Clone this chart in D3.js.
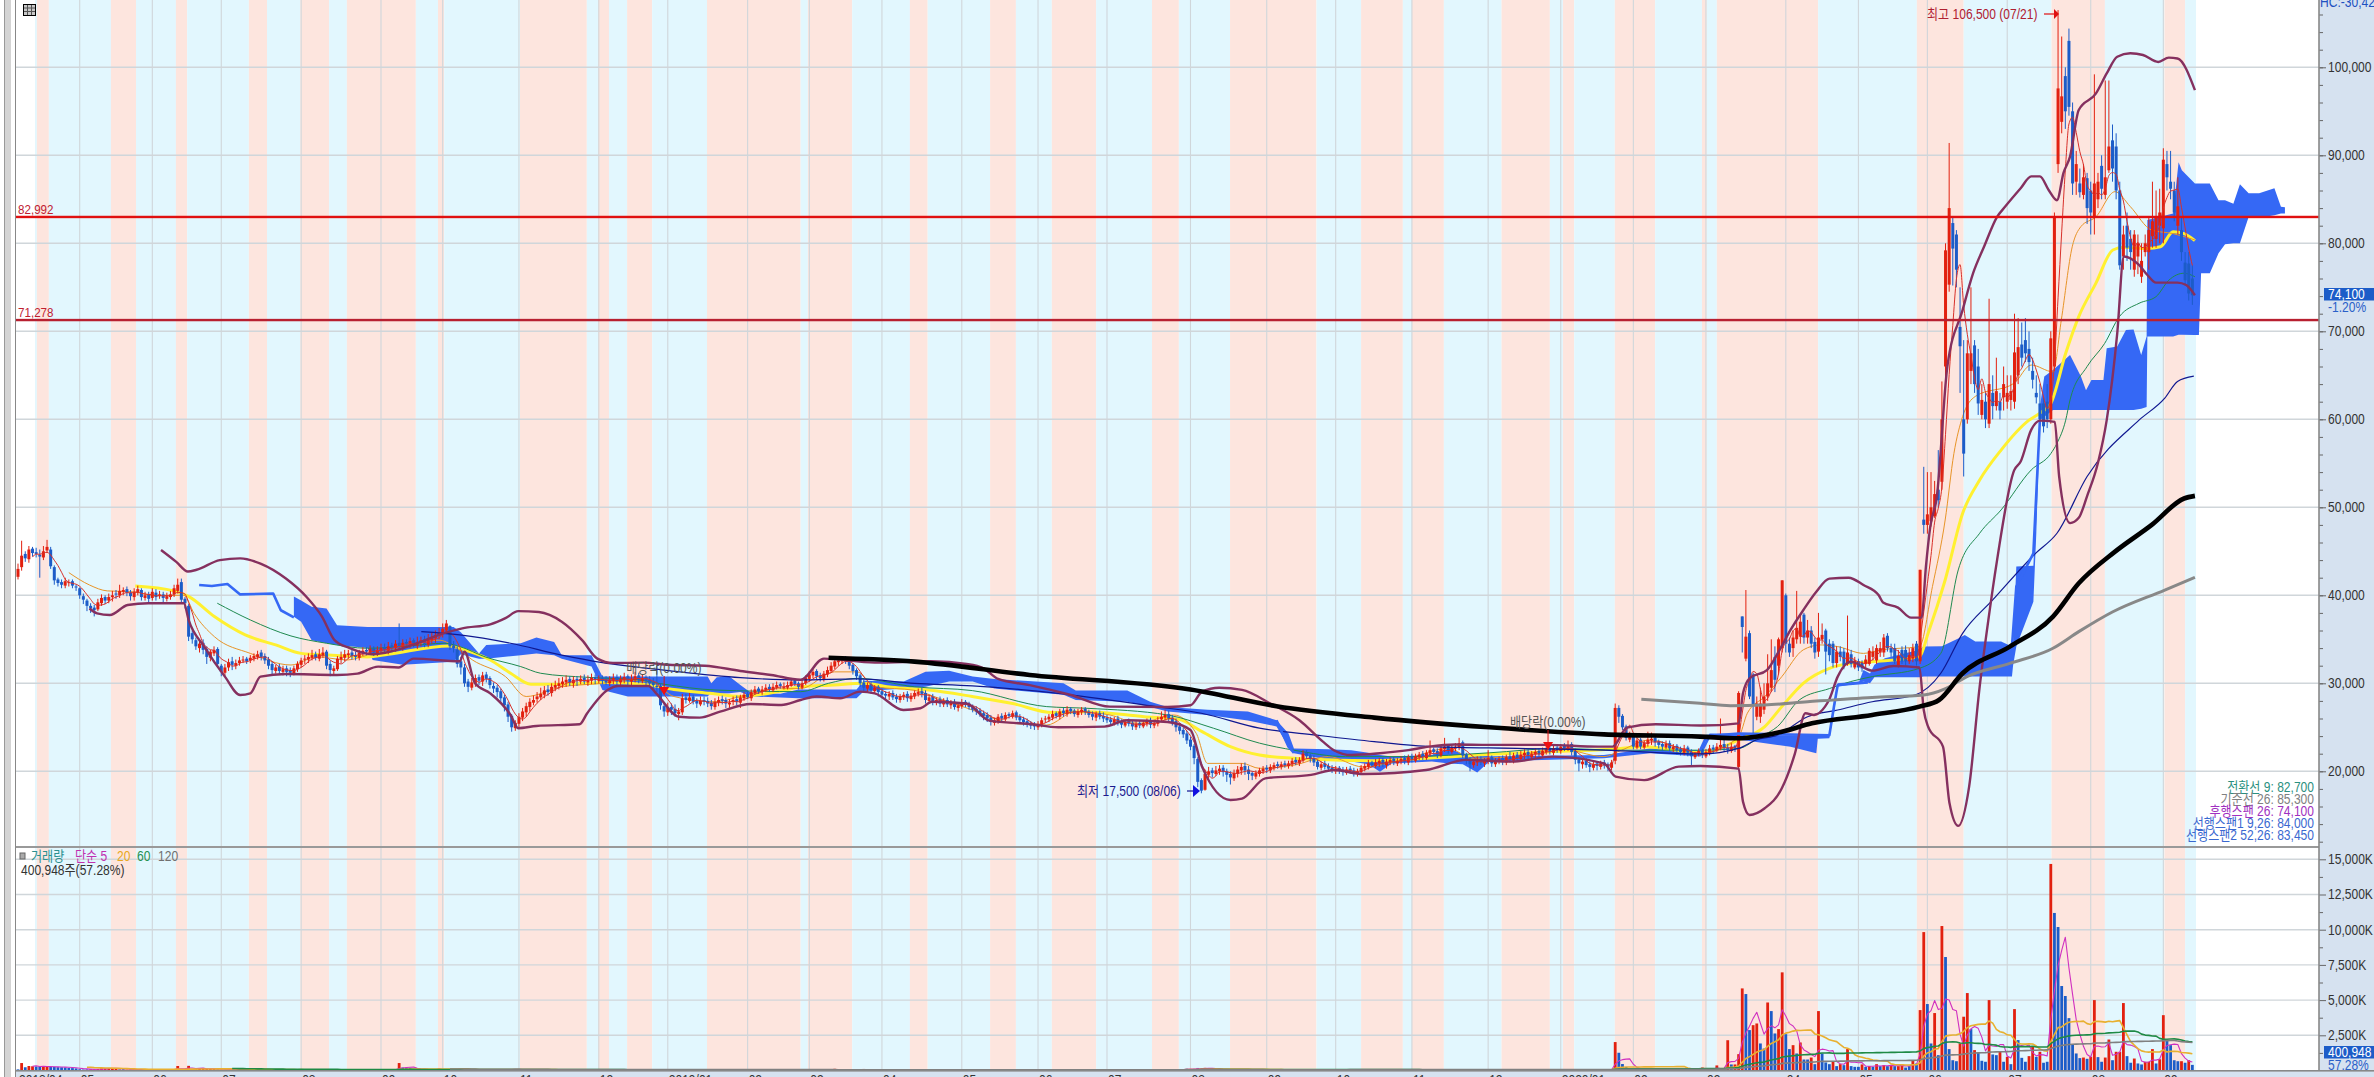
<!DOCTYPE html>
<html><head><meta charset="utf-8">
<script src="https://cdnjs.cloudflare.com/ajax/libs/d3/7.9.0/d3.min.js"></script>
<style>html,body{margin:0;padding:0;background:#fff;overflow:hidden}svg{display:block}text{font-family:"Liberation Sans","Noto Sans CJK KR",sans-serif}</style>
</head><body><svg id="c" width="2374" height="1077"></svg>
<script>
// prices in hundreds of won; volumes in thousands of shares, negative = down day
const closesEarly=[
430,445,442,452,448,447,444,450,455,433,417,414,412,416,415,411,409,400,395,388,
385,383,392,397,394,398,400,401,405,406,403,399,404,407,398,400,396,404,398,401,
397,399,401,408,412,395,391,353,350,342,345,338,330,336,338,322,313,318,324,321,
323,326,327,325,329,331,333,330,326,320,315,318,314,316,313,312,317,322,326,328,
330,332,329,333,335,320,315,317,328,330,333,334,331,330,335,337,336,339,335,338,
340,338,342,341,345,342,346,345,348,344,347,349,345,350,352,355,357,362,368,342,
340,322,318,300,296,301,306,303,309,305,298,294,290,283,275,262,250,255,262,268,
274,279,281,285,288,292,290,296,298,300,302,304,301,304,303,305,302,304,306,304,
305,303,301,304,306,302,305,307,303,305,308,304,306,303,300,298,296,275,268,272,
270,266,268,283,281,284,279,277,280,279,277,274,279,281,280,277,278,281,279,284,
287,284,290,293,291,293,295,293,296,298,297,296,298,302,299,296,300,306,310,313,
308,306,311,315,320,325,326,328,325,320,314,308,300,295,298,292,295,290,287,286,
288,284,282,285,287,283,286,289,290,288,281,284,279,281,277,280,276,278,273,275,
278,276,273,270,268,265,263,260,256,258,262,260,264,263,266,261,258,256,253,252,
251,254,258,260,262,265,263,268,266,270,268,265,268,270,267,264,262,265,262,260,
258,256,259,255,253,256,254,251,254,252,255,257,253,255,258,262,264,260,256,250,
246,242,235,228,215,188,178,197,200,198,201,203,199,196,193,198,202,205,201,197,
195,198,201,203,202,205,207,206,208,207,209,212,210,213,220,217,214,210,205,208,
205,203,201,203,201,199,202,200,198,200,204,206,209,207,210,212,208,211,213,210,
212,214,211,216,213,217,219,216,221,224,222,219,226,228,223,227,228,232,218,212,
208,211,213,210,212,215,209,212,214,211,216,213,218,215,219,221,217,220,222,219,
223,225,222,226,224,228,226,230,222,213,209,211,207,205,208,206,209,207,205,210,
272,262,250,238,240,228,235,228,232,236,237,233,230,228,231,226,228,224,222,226,
221,217,219,223,218,222,226,225,228,230,226,224,228,226];
const opensEarly=[
421,432,447,441,453,449,446,443,451,452,432,418,415,411,414,416,410,408,399,394,
388,386,384,391,398,394,398,402,400,404,407,403,398,403,406,397,401,397,403,399,
401,396,398,401,405,415,396,388,357,349,340,346,339,329,334,339,320,312,318,325,
320,323,326,328,326,328,330,335,331,327,322,314,319,313,317,315,311,316,321,327,
327,329,333,328,332,336,322,314,316,327,329,332,335,332,329,334,338,335,339,334,
337,341,337,343,340,346,341,347,344,349,343,346,350,344,349,351,354,357,360,365,
343,338,325,318,302,295,300,307,302,310,306,297,295,291,284,276,263,249,254,261,
267,273,278,282,284,287,293,289,295,297,299,301,305,300,305,302,306,301,303,307,
303,306,304,300,303,307,301,304,308,302,304,309,303,307,304,301,297,297,274,267,
273,271,265,267,284,280,285,280,276,281,280,278,273,278,282,281,276,279,282,278,
283,288,283,289,294,290,292,296,292,295,299,296,295,297,303,300,295,300,305,309,
314,309,305,310,314,319,324,325,329,326,321,315,309,301,294,299,291,296,291,288,
285,289,285,281,284,288,282,285,288,291,289,280,285,278,282,276,281,275,279,272,
274,279,277,274,271,269,266,264,261,255,257,263,259,265,262,267,262,259,257,254,
253,250,253,259,259,261,266,262,269,265,271,269,264,267,271,268,265,261,266,263,
261,259,255,260,256,252,257,255,250,255,251,254,258,252,254,259,261,265,261,257,
251,247,243,236,229,214,190,179,196,201,197,200,204,200,197,192,197,201,206,202,
198,194,197,200,204,201,204,208,205,209,206,208,213,209,212,221,218,215,211,204,
209,206,204,200,204,202,198,203,201,197,199,203,205,210,206,209,213,207,210,214,
209,211,215,210,217,212,216,220,215,220,225,223,218,225,229,222,226,227,233,219,
213,207,210,214,209,211,216,208,211,215,210,217,212,219,214,218,222,216,219,223,
218,222,226,221,227,223,229,225,231,223,214,208,212,208,204,209,205,210,208,204,
212,272,263,251,236,241,227,236,227,231,235,238,234,231,227,232,225,229,225,221,
227,222,216,220,224,217,221,227,224,227,231,227,223,229];
const highsEarly=[
436,462,450,456,455,454,452,456,463,455,434,420,418,420,418,418,412,409,402,396,
391,389,396,401,400,402,405,406,412,409,410,406,408,411,408,404,404,408,407,405,
404,403,405,412,419,419,398,390,360,352,348,350,342,338,342,341,322,322,328,330,
327,330,331,330,332,334,337,338,334,330,325,321,322,320,320,318,320,325,329,332,
334,338,336,339,341,338,326,320,331,336,338,338,338,336,338,341,341,343,342,342,
345,345,347,346,349,368,350,350,352,351,353,353,354,356,358,360,363,368,372,366,
348,342,330,322,305,306,310,310,313,313,308,301,298,294,287,279,265,258,266,272,
278,283,286,290,295,297,298,300,303,306,307,309,308,308,308,309,310,309,311,310,
309,309,308,308,311,310,309,312,310,310,313,312,310,309,308,306,320,300,277,278,
277,276,272,288,288,289,287,283,285,285,284,281,283,285,286,284,282,285,286,287,
290,291,293,297,296,297,299,299,300,302,301,301,302,305,304,302,304,309,314,317,
316,312,314,319,324,328,331,330,331,328,323,317,311,304,301,302,298,298,294,291,
291,292,288,288,290,291,289,292,294,295,292,287,288,284,285,283,284,281,282,278,
282,281,279,276,274,272,269,267,264,261,265,266,267,267,269,269,265,262,260,257,
256,257,261,263,265,269,268,271,272,274,273,271,271,273,273,270,268,268,269,267,
264,262,262,263,259,259,260,258,257,258,258,260,261,258,262,268,270,269,264,260,
254,250,246,239,231,216,192,202,205,204,206,207,207,203,200,202,206,209,210,206,
200,201,204,206,207,208,210,211,211,212,212,215,216,216,224,224,220,218,213,211,
212,209,207,206,206,205,205,206,204,203,207,209,213,212,214,215,215,214,216,216,
215,217,218,219,220,220,222,223,224,235,227,226,229,238,231,231,232,238,235,221,
216,214,217,217,215,224,218,215,217,218,219,222,221,222,223,225,225,223,226,226,
227,229,229,230,230,231,232,235,233,226,216,215,215,211,212,211,212,213,210,213,
277,275,265,253,245,243,238,238,235,245,244,240,236,234,235,235,231,231,228,230,
229,225,222,226,226,225,230,230,232,260,236,231,232,230];
const lowsEarly=[
418,428,438,437,444,443,420,440,448,430,412,410,408,408,410,408,405,396,390,382,
380,376,382,388,390,391,393,396,397,400,399,394,394,400,394,394,392,394,394,396,
392,393,395,398,402,392,385,348,345,338,335,333,322,325,331,318,308,308,314,315,
316,320,323,322,323,325,327,326,322,316,310,311,310,309,308,307,309,313,318,322,
323,326,326,325,329,316,308,310,314,323,325,328,327,326,326,331,332,332,331,331,
334,335,333,337,336,338,337,341,340,341,339,342,341,341,345,346,350,352,356,338,
335,318,310,296,290,292,296,298,297,301,294,289,284,279,268,256,245,246,250,257,
262,268,275,278,281,283,286,285,291,293,295,296,297,295,297,299,299,297,299,299,
300,299,298,297,299,298,297,300,298,298,301,300,300,298,296,294,290,270,262,263,
264,262,258,264,277,278,276,272,274,275,273,270,270,274,276,272,272,275,275,272,
280,282,280,287,288,287,290,290,290,293,294,293,293,296,297,293,293,298,302,306,
304,302,302,307,312,316,320,322,322,316,310,304,296,291,290,288,288,285,283,282,
281,281,278,278,281,279,279,282,285,284,277,277,275,275,273,273,273,271,270,268,
271,273,270,267,264,262,258,256,252,252,254,257,257,260,260,258,255,252,250,248,
247,247,250,255,256,258,260,259,262,262,265,262,261,264,264,261,258,257,259,256,
255,252,252,252,249,250,251,247,247,249,249,251,249,249,251,256,258,255,252,245,
242,238,231,224,208,182,175,178,192,193,195,196,194,188,185,189,193,196,196,190,
190,191,194,197,198,198,201,203,202,204,203,205,207,206,210,214,210,206,202,201,
202,200,198,197,197,195,196,197,194,194,197,200,202,204,204,205,205,203,207,207,
206,208,208,207,210,210,213,213,213,217,219,215,216,222,220,220,223,224,215,208,
200,204,206,207,205,208,205,205,208,207,207,210,209,212,211,214,214,213,215,215,
215,219,219,218,221,220,223,223,218,208,200,203,204,199,201,201,202,203,200,201,
208,255,247,235,233,225,225,225,225,228,230,228,226,223,225,223,222,219,218,218,
217,205,214,217,215,215,218,220,222,224,222,220,221,222];
const lateStart=474;
const opensLate=[205,376,328,357,310,262,262,270,285,295,330,320,340,400,345,340,350,353,378,352,360,347,336,350,360,345,345,323,336,336,322,333,318,325,323,322,322,330,326,335,335,354,340,340,320,338,338,325,328,345,325,486,480,484,490,520,529,660,753,823,810,705,600,600,655,684,660,605,620,595,630,615,620,625,620,622,620,650,685,690,680,655,630,618,618,620,600,660,890,938,990,1030,950,870,868,855,874,860,830,850,888,855,883,917,910,860,785,820,805,770,785,762,790,790,808,805,820,817,890,870,860,820,815,778,777,760];
const closesLate=[289,364,353,285,276,277,277,285,300,315,304,350,417,345,335,352,363,370,352,360,345,335,352,355,336,332,323,336,330,320,335,322,326,318,317,327,337,336,340,340,352,340,335,325,331,325,325,332,340,325,429,480,492,500,515,508,600,792,840,794,770,683,561,675,675,640,618,622,600,640,615,632,610,640,630,632,676,682,670,675,665,645,625,600,592,600,692,830,976,967,950,955,868,890,858,875,840,835,868,870,862,875,910,885,860,775,810,795,790,810,800,780,800,815,825,830,835,895,875,862,835,842,790,758,743,741];
const highsLate=[291,376,406,360,312,285,295,300,333,350,342,352,417,402,352,360,405,378,380,372,365,352,380,368,362,350,348,342,342,340,377,338,330,328,326,332,340,342,344,347,356,357,345,345,338,342,343,340,345,348,429,546,540,540,530,565,643,800,914,830,815,750,690,690,750,690,680,640,630,737,650,670,630,660,650,650,720,715,710,715,700,670,650,640,625,640,700,835,1065,1035,1000,1044,960,905,885,890,880,870,992,880,900,985,985,935,925,870,820,835,815,815,810,800,810,830,870,860,862,908,905,905,870,875,830,790,790,775];
const lowsLate=[203,335,325,282,243,258,255,265,280,290,290,310,335,335,330,330,345,345,345,345,340,328,330,345,310,325,318,318,325,316,320,318,316,314,313,318,320,326,322,330,330,336,330,322,318,322,320,322,324,320,322,470,470,478,488,500,520,640,745,752,750,630,535,595,640,630,605,600,590,590,600,610,600,610,612,610,612,640,660,665,655,635,618,595,585,590,595,655,880,925,930,945,855,855,852,850,822,810,810,840,850,850,880,870,850,770,770,780,770,762,765,755,785,770,795,795,800,800,860,850,825,810,780,752,735,730];
const volumes=[
-80,530,-230,320,300,-290,-300,280,260,-250,-260,-240,-230,-220,-180,-170,-150,-90,-70,-80,
90,-70,110,150,140,150,160,150,-80,-90,60,-70,80,-60,70,-50,60,-70,50,-60,
70,-60,90,100,320,-70,-60,330,110,120,150,130,120,110,100,-80,60,-70,50,-60,
80,-60,100,-50,90,-50,60,-70,50,-60,40,-50,60,-50,40,-60,50,-40,60,-50,
60,-50,40,-60,50,-70,40,-50,60,-40,50,-60,40,-50,60,-40,50,-60,40,-50,
60,-50,40,-60,50,530,-210,-200,-190,90,-70,60,110,-60,50,-70,130,-60,50,-70,
60,-50,90,-60,70,-50,40,-60,50,-50,60,-70,50,-60,80,-90,100,70,60,-50,
50,-40,60,-50,40,-60,50,-40,50,-40,60,-50,40,-50,40,-60,50,-40,50,-40,
60,-50,40,-60,50,-40,50,-40,60,-50,40,-50,40,-60,50,-80,60,-90,70,-50,
60,-50,40,-60,50,-40,50,-40,60,-50,40,-50,40,-60,50,-40,60,-50,40,-50,
50,-40,60,-50,40,-60,50,-40,50,-40,60,-50,40,-50,40,-60,50,-40,50,-40,
60,-50,40,-60,80,120,-60,50,-50,40,-60,50,-40,110,-50,40,-50,60,-40,50,
-40,60,-50,40,-60,50,-40,50,-40,60,-50,40,-50,40,-60,50,-40,60,-50,40,
-50,50,-40,60,-50,40,-60,50,-40,50,-40,60,-50,40,-50,40,-60,50,-40,60,
-50,40,-50,50,-40,60,-50,40,-60,50,-40,50,-40,60,-50,40,-50,40,-60,90,
60,-50,40,-60,50,-40,50,-40,60,-50,40,-50,90,-60,50,-40,60,-50,40,-50,
90,-100,-130,110,-120,-180,130,190,140,120,130,80,60,-50,40,-60,50,-40,50,-40,
60,-50,40,-60,50,-40,50,-40,110,70,40,-50,40,-60,60,-40,60,-50,40,-50,
50,-40,60,-50,40,-60,100,90,50,-40,60,-50,40,-50,40,-60,50,-40,50,-40,
60,-50,40,-60,60,-40,90,-40,60,-50,40,-50,70,90,50,-60,50,-40,60,-50,
60,-50,40,-60,50,-40,50,-40,60,-50,40,-50,40,-60,50,-40,60,-50,40,-50,
50,-40,60,-50,40,-60,100,90,-50,-60,-40,50,-40,60,-50,40,-50,40,-60,50,
2020,-1260,-460,-250,-150,120,100,-90,110,-80,100,120,-70,90,-80,110,-70,90,-60,80,
70,-60,80,-50,210,-90,100,-80,360,-90,120,2150,-430,430,1160,5830,-5430,-2870,3220,3340,
-1920,-1560,4830,-4220,-2630,2940,6970,-2580,-1520,1800,-1210,1990,-780,-780,920,-450,4220,-1210,-570,-450,
620,-310,450,-380,1520,-310,-260,-260,430,-260,310,-260,450,-310,380,-310,360,-310,310,450,
-210,-310,690,-500,4290,9830,-4720,-1920,4080,-1090,10260,-8060,-1520,-730,-660,1920,3820,5500,-2940,1450,
-1260,-690,-620,5000,-1140,-1090,1330,-620,970,-450,4360,-2160,-900,-620,1020,1680,-970,1330,-550,-620,
14670,-11190,-10190,-6000,-5290,-3720,-1850,-1210,-880,920,-830,970,5000,-950,-620,920,2200,-730,1330,1330,
4790,-1020,-550,850,-500,-430,620,620,1520,-500,800,3930,-2110,-1800,-730,-660,660,-550,730,-400];
const bbUpper=[[39.4,451.5],[43.6,438],[46.8,427],[49.2,429],[55.6,440],[61.2,442],[66.8,436],[73.8,419],[79.5,398],[83.7,376],[87.2,349],[91.4,340],[97.7,333],[107.6,342],[117.4,357],[122.4,362.5],[130.1,367],[134.3,374],[137.8,382],[143.5,381],[149.8,370],[155.4,349],[159.6,328],[163.9,323],[172.3,323.5],[179.3,321],[189.2,320],[199,314],[207.5,309.5],[215.6,304],[222,328],[236,323.5],[251.8,325],[261.3,322],[266,317],[270,305],[278.7,298],[289.8,287],[300.8,273.5],[316.7,273],[323,275],[326.2,290.5],[330.9,295],[337.2,292.5],[345,277],[353,258],[359.4,234],[362.5,224],[367.3,218.5],[375.2,220.5],[383,224],[388.7,228],[395.8,230.5],[405.3,230],[421,230],[435.3,228],[439.3,228],[443.2,249.6],[451.2,253.4],[463.5,252],[474,254.5],[475.2,288.6],[477,305.7],[481.8,315],[485.3,338],[488.3,360.6],[491.8,383],[495.4,404],[499,419],[504.3,420],[508.4,411.7],[512.6,400],[513.8,391.7],[517.9,386],[521.5,374.6],[524.4,374.6],[525.6,432.6],[526.8,478],[528.6,512],[531.5,660],[535.7,724],[538.6,766],[541.6,796],[545.2,830],[547.5,842],[551.7,862.5],[554.6,876],[557,876],[559.4,860.6],[561.7,849],[563.5,880],[565.3,898.5],[567.7,951.5],[572.4,970],[575.4,993],[578.3,1012],[581.9,1016],[585.4,1014],[589.6,1006],[592.5,1011],[594.9,1010],[599.7,974]];
const bbLower=[[19.7,385],[21.8,379.5],[25.3,377.6],[30.2,389],[35.9,391],[45.7,391],[47,372],[51.3,341.7],[57,307.6],[61.2,286.7],[64,288.6],[66.8,307.6],[73.8,310.6],[87.9,309.5],[93.5,311],[99.2,319],[104.8,318],[109,328],[121.7,325],[123,336],[125.9,300],[130.1,288.6],[135.7,264],[137.8,249],[142.8,251.5],[154.7,253.4],[156.8,266],[162.4,292.4],[165.3,297],[173.7,297],[175.8,288.6],[182.1,262],[187.8,261],[193.4,267.8],[201.8,276.5],[210.3,275.4],[215.6,281],[220,285],[226.5,283],[232,290.5],[236,288.6],[243.9,269.7],[248.6,271.6],[251.8,279],[261.3,277],[267.6,257.6],[278.7,253.8],[286.6,250],[299.3,250.8],[305.6,258],[316.7,256],[323,247],[326.2,205],[334,167.4],[337.2,169],[343.6,192],[356.2,196],[362.5,201.5],[370.5,197],[387.9,201.5],[398.9,213],[411.6,211],[422.7,216.7],[436.9,209],[440.1,194],[448,190],[457.5,205.3],[463.5,206],[474,203],[475.2,165.5],[477,150.4],[481.2,158],[485.9,180.7],[489.5,220],[492.4,266],[494.8,264],[497.8,273.5],[498.9,281],[501.3,307.6],[504.9,324.6],[510.8,314.4],[516.7,319.7],[523.8,318],[525,269.7],[526.2,250.8],[530.3,228],[532.1,163.6],[534.5,138],[537.5,182.6],[540.4,296],[542.8,372],[545.2,440],[549.9,542],[551.7,552],[554.6,588],[557,598.5],[561.1,597],[562.3,535],[565.3,482],[567.7,488],[570,512.8],[573,550.7],[575.4,599],[578.3,697.7],[580.1,785],[584.3,775.4],[586.6,764],[589,755.3],[594.9,755.3],[597.3,752.6],[599.7,741]];
const maYellow=[[32.3,410.6],[42.9,405],[47.1,398.5],[54.1,375.8],[62.6,355],[71,343.6],[78,334],[86.5,332],[96.3,330],[102,333],[118.8,342.4],[124.5,336],[130.1,326.5],[135.7,311.4],[141.3,299],[149.8,299],[162.4,300.8],[172.3,299],[180.7,293],[190.6,288.6],[199,285],[210.3,291.3],[215.6,296],[224.9,298],[232.8,300],[240.7,295.5],[251,292.4],[262.9,285],[274,277],[285,266.7],[294.5,267.8],[310.3,262],[319.8,259],[326.2,245],[334,228],[342,218.5],[351.5,214.8],[361,213],[373.6,212],[387.9,214.8],[402,218.5],[421,222],[438.5,225],[448,228],[463.5,221],[474,235.6],[481.2,250.8],[485.9,273.5],[491.8,300],[499,317],[504.9,322.7],[510.8,324.6],[523.8,330],[526.2,356.8],[530.9,417.4],[535.7,493],[540.4,531],[546.3,565],[554,599],[557,607],[560,618],[564.1,675],[567.7,716.7],[572.4,754.5],[577.1,792.4],[580.1,795.4],[586.6,794],[590.2,796],[593.7,813],[596.7,811],[599.7,803]];
const maOrange=[[14,425.8],[19.7,411.7],[24.6,405],[31.6,404],[37.3,400],[45.7,400],[48.5,379.5],[54.1,353],[64,334],[75.2,320.8],[82.3,330],[90.7,326.5],[96.3,332],[107.6,341.7],[116,349],[120.3,341.7],[125.2,326.5],[134.3,307.6],[140,285],[149.8,296],[161,300],[168,303.8],[175,300],[180.7,285],[192,279],[199,285],[210.3,294],[215.6,294],[224.9,313],[231.2,313],[236,296],[247,292],[255,281],[262.9,269.7],[274,254.5],[283.4,252.6],[291.3,267.8],[300.8,264],[308.8,254.5],[318.3,264],[324.6,243],[327.7,209],[337.2,209],[342,203.4],[351.5,207],[361,216.7],[370.5,205],[381.5,213],[394.2,226],[400.5,214.8],[411.6,216.7],[424.3,226],[436.9,216.7],[441.7,224],[449.6,235.6],[463.4,220],[474,239],[476.4,266],[481.2,285],[485.9,307.6],[491.8,338],[496.6,343.6],[501.3,341.7],[508.4,334],[513.2,338],[523.8,341.7],[527.4,410],[530.9,485.6],[533.3,561],[535.7,603],[539.2,626],[549.9,641],[554.6,661.7],[560.6,654],[562.9,713],[565.9,796],[568.3,819],[572.4,830],[577.7,858.7],[581.9,841.7],[587.8,815],[593.7,811],[599.7,803.8]];
const maGreen=[[54.9,391],[64,372],[75.2,353.8],[85,345.5],[96.3,339.8],[107.6,342.4],[117.4,345.5],[121.7,341.7],[128.7,330],[138.5,319],[144,311.4],[156.8,306.8],[170.9,303.8],[177.9,299],[192,292.4],[215.6,290.5],[223.3,300],[231.2,305.7],[247,296],[262.9,291.7],[283.4,273.5],[294.5,271.6],[316.7,264],[329.3,249],[342,232],[351.5,224],[365.7,216.7],[383,216.7],[405.3,221],[424.3,226],[441.7,224],[463.4,224],[474,226],[480,239.4],[484.7,250.8],[490.7,281],[499,294],[504.9,302],[510.8,307.6],[523.8,317],[529.7,334],[534.5,428.8],[540.4,470.5],[546.3,497],[554.6,542.4],[560,561],[561.7,572.7],[564.1,599],[565.3,622],[570,660],[574.8,686],[578.9,716.7],[584.3,731.8],[589,739.4],[592.5,758],[596.7,766],[599.7,762]];
const maNavy=[[111.1,358.7],[121.7,355],[135.7,345.5],[149.8,332],[161,323.5],[178,315],[199,306.4],[215.6,303.8],[231.2,305],[247,300],[262.9,297],[286.6,288.6],[313.5,273.5],[326,266],[342,249],[357.8,241],[373.6,233.7],[389.5,228],[413,226],[436.9,224],[463.5,219.7],[474,226],[478.8,235.6],[484.7,241],[493,262],[501.3,269.7],[510.8,279],[522.6,286.7],[529.7,311.4],[535.7,356.8],[544,394.7],[555.8,447.7],[561.7,470.5],[570,535],[584.3,599],[591.4,624],[594.9,643],[599.4,649]];
const maBlack=[[223.3,329],[247,324.6],[278.7,309.5],[323,293],[346.7,274],[373.6,261],[405.3,250],[436.9,242],[463.4,239.4],[474,237.5],[485.9,245],[494.2,254.5],[510.8,264],[523.8,273.5],[529.2,281],[535.7,311.4],[548.7,341.7],[560.6,375.8],[567.7,413.6],[577.7,449.6],[587.8,480],[596.7,510],[599.7,513]];
const maGray=[[447.2,281.8],[463.4,277.3],[471.7,274.6],[481.2,275.4],[493,279],[510.8,284],[525,286.7],[531,294],[536.9,307.6],[548.7,322.7],[560.6,339.8],[567.7,358.7],[577.1,381.3],[591.4,406],[599.7,420.5]];
const blueEdge1=[[49.9,411.7],[53.4,410.6],[57.7,412.9],[61.2,401],[70.3,402],[72.4,383],[76,375]];
const blueEdge2=[[346.7,258],[350,228],[351.5,221]];
const blueEdge3=[[463.4,224],[465.2,240],[474,243],[499,241],[500.4,277],[501.3,298],[509.6,301]];
const blueEdge4=[[549.3,341.7],[550.5,410],[555.2,447.7],[557,599]];
const cloudDays=[76,78,80.9,85,87.9,96.3,97.7,106,120,122,127,129,138.5,142.8,147.7,149.8,158,161,168,190,191,192.5,196,199,202,210,215,231,233,244,250,256.5,263,269,288,291.4,305.6,311.9,316.7,327.7,338.8,346.7,350,351.5,361,367.3,372,375.2,378.4,389.5,394.2,398,402,405.3,436.9,449.6,463.5,466,474,484.7,488.3,495.4,495.8,499,500.4,501.3,507.2,508.4,510.2,511.4,514.3,523.8,525,530,534.5,536.3,539.2,546.3,549.3,549.6,550.5,555.2,556,557,558.2,560.6,565.3,568.3,569.7,571.2,574.5,575.4,578.3,580.7,582.8,584.9,586.4,586.6,593.7,595.2,596.1,599.7,600.8,601.4,603.8,606.2,608,610.3,612.1,614.5,617.4,621.6,623.4,624.5];
const cloudTop=[398.5,394,387,385,366,364,364,364,364,358,334,343.6,345.5,352,347,332,332,307.6,307.6,307.6,300,307,307.6,298,289,288,293,293,303,302,313,314.4,307.6,305,300,291.7,291.7,279,273,270,268,258,243,226,225,224,221,218.5,216.7,218.5,226,220,218.5,217,218.5,226,224,243,243,241,241,241,241,241,277,300,302,315,311,321,328.4,338,341.7,342,351,355,347.4,347.4,341.7,342,432.6,433.7,500,614,648.5,656,673,648.5,633,644.7,644.7,680.7,682.6,701.5,702,673,694,826.5,834,892,883,868,868,868,868,849,849,845,867,857,857,862.5,841.6,841];
const cloudBottom=[375.7,370,349,345.5,343.6,340,326.5,321,324.6,333,328,328,332,334,332,328,319,292.4,285,285,290,288,288.6,290,285,284,283,283,291,294,296,302,302,294,287,281,279,273,268,264,257.6,251,228,220.4,213,211,208,199.6,209,211,209,208,198.5,211,214.8,220.4,216.7,237,236,230,228,220.5,237,237.5,270,296,300,302,300,307,307,307,307.6,307.6,307.6,307.6,307.6,307.6,307.6,320,341.7,392.8,470,599,603,610.6,610.6,610.6,610.6,610.6,610.6,610.6,610.6,610.6,610.6,612,614,694,694,696,696,695.8,695.8,766,766,788.6,799,800,800,830,829,832,834,834];
const bandEdges=[4.7,5.2,8.5,25.6,32.5,43.5,46.6,63.6,68.6,77.8,85.7,90.6,109.6,115.7,117.4,138.3,156.7,159.8,162.8,167.8,174.7,189.8,215.6,217.6,229.8,245.7,250.6,267.8,274.9,284.8,297,312.4,319.8,333.9,357.7,370,381.5,384,392.8,408.7,422,425.6,428.7,439.9,451,463.9,465.2,468,495.9,523.1,536,560.2,574.9,591.3,597,600];
const monthDays=[17,37,56,78,100,117,138,160,179,201,218,238,260,281,300,323,344,363,384,405,425,445,465,487,507,526,548,571,591];
const monthLabels=["05","06","07","08","09","10","11","12","2019/01","02","03","04","05","06","07","08","09","10","11","12","2020/01","02","03","04","05","06","07","08","09"];
const priceTicks=[200,300,400,500,600,700,800,900,1000];
const volumeTicks=[2500,5000,7500,10000,12500,15000];
const ichimokuLegend=["전환선 9: 82,700","기준선 26: 85,300","후행스팬 26: 74,100","선행스팬1 9,26: 84,000","선행스팬2 52,26: 83,450"];
const ichimokuColors=["#2a9080","#808080","#a030c0","#3a68d0","#3a68d0"];
const levels=[{v:829.92,t:"82,992",c:"#e01010",tc:"#c02030"},{v:712.78,t:"71,278",c:"#b82030",tc:"#c02030"}];

const closes=closesEarly.slice(0,lateStart).concat(closesLate),opens=opensEarly.slice(0,lateStart).concat(opensLate),
 highs=highsEarly.slice(0,lateStart).concat(highsLate),lows=lowsEarly.slice(0,lateStart).concat(lowsLate);
const W=2374,H=1077,plotL=16,plotR=2319,sep=847,axisY=1071;
const svg=d3.select("#c");
const x=d3.scaleLinear().domain([0,600]).range([18,2196]);
const y=d3.scaleLinear().domain([200,1000]).range([771.3,67.3]);
const yv=d3.scaleLinear().domain([0,15000]).range([1070.5,859.3]);
const UP="#e2200f",DOWN="#1c5cc8",GRID="#d0d6da";

svg.append("rect").attr("x",plotR).attr("y",0).attr("width",W-plotR).attr("height",H).attr("fill","#d6e2f0");
svg.append("rect").attr("x",0).attr("y",axisY).attr("width",W).attr("height",H-axisY).attr("fill","#d6e2f0");
svg.append("rect").attr("x",0).attr("y",0).attr("width",16).attr("height",H).attr("fill","#ffffff");
svg.append("rect").attr("x",5).attr("y",0).attr("width",6).attr("height",H).attr("fill","#d4d4d4");
svg.append("line").attr("x1",4.5).attr("x2",4.5).attr("y1",0).attr("y2",H).attr("stroke","#999");
svg.append("line").attr("x1",15.5).attr("x2",15.5).attr("y1",0).attr("y2",H).attr("stroke","#888");

const bands=d3.pairs(bandEdges).map((p,i)=>({a:p[0],b:p[1],c:i%2?"#fde5de":"#e2f7fe"}));
svg.append("g").selectAll("rect").data(bands).join("rect")
 .attr("x",d=>x(d.a)).attr("width",d=>x(d.b)-x(d.a)).attr("y",0).attr("height",axisY).attr("fill",d=>d.c);

const grid=svg.append("g").attr("stroke",GRID);
grid.selectAll(".v").data(monthDays).join("line").attr("class","v").attr("stroke-width",1.1).attr("x1",d=>x(d)).attr("x2",d=>x(d)).attr("y1",0).attr("y2",axisY);
grid.selectAll(".h").data(priceTicks).join("line").attr("class","h").attr("stroke-width",1.4).attr("x1",plotL).attr("x2",plotR).attr("y1",d=>y(d)).attr("y2",d=>y(d));
grid.selectAll(".hv").data(volumeTicks).join("line").attr("class","hv").attr("stroke-width",1.4).attr("x1",plotL).attr("x2",plotR).attr("y1",d=>yv(d)).attr("y2",d=>yv(d));
svg.append("rect").attr("x",plotL).attr("y",sep-1).attr("width",plotR-plotL).attr("height",2).attr("fill","#999");

const cloud=cloudDays.map((d,i)=>({d,t:cloudTop[i],b:cloudBottom[i]}));
svg.append("path").attr("fill","#3568f5").attr("d",d3.area().x(d=>x(d.d)).y0(d=>y(d.b)).y1(d=>y(d.t))(cloud));

const pl=d3.line().x(d=>x(d[0])).y(d=>y(d[1])).curve(d3.curveMonotoneX);
const rolling=(arr,n)=>arr.map((_,i)=>i<n-1?null:[i,d3.mean(arr.slice(i-n+1,i+1))]).filter(Boolean);
function drawLine(data,color,w,gen=pl){svg.append("path").attr("fill","none").attr("stroke",color).attr("stroke-width",w).attr("stroke-linejoin","round").attr("d",gen(data));}

drawLine(maYellow,"#fff030",3);
drawLine(maOrange,"#e89428",1);
drawLine(maGreen,"#1f8a50",1);

const idx=d3.range(closes.length);
const cg=svg.append("g");
cg.selectAll(".w").data(idx).join("line").attr("class","w")
 .attr("x1",i=>x(i)).attr("x2",i=>x(i))
 .attr("y1",i=>y(Math.max(highs[i],opens[i],closes[i]))).attr("y2",i=>y(Math.min(lows[i],opens[i],closes[i])))
 .attr("stroke",i=>closes[i]>=opens[i]?UP:DOWN).attr("stroke-width",1);
cg.selectAll(".b").data(idx).join("rect").attr("class","b")
 .attr("x",i=>x(i)-1.5).attr("width",3)
 .attr("y",i=>y(Math.max(opens[i],closes[i])))
 .attr("height",i=>Math.max(1,Math.abs(y(opens[i])-y(closes[i]))))
 .attr("fill",i=>closes[i]>=opens[i]?UP:DOWN);

drawLine(rolling(closes,5),"#d8302a",1);
drawLine(maNavy,"#101890",1.2);
[blueEdge1,blueEdge2,blueEdge3,blueEdge4].forEach(e=>drawLine(e,"#3568f5",2.6,d3.line().x(d=>x(d[0])).y(d=>y(d[1]))));
drawLine(bbUpper,"#85305f",2.4);
drawLine(bbLower,"#85305f",2.4);
drawLine(maGray,"#888888",3);
drawLine(maBlack,"#000000",4.6);

const dividendDays=[178,421.5];
const dividendTops=[668,722];
const dividendTips=[692,747];
dividendDays.forEach((d,i)=>{
 const px=x(d);
 svg.append("line").attr("x1",px).attr("x2",px).attr("y1",dividendTops[i]+8).attr("y2",dividendTips[i]).attr("stroke","#e01010").attr("stroke-width",1);
 svg.append("path").attr("d",`M${px-5},${dividendTips[i]-5}L${px+5},${dividendTips[i]-5}L${px},${dividendTips[i]+3}Z`).attr("fill","#f01010");
 svg.append("text").attr("x",px-38).attr("y",dividendTops[i]+5).attr("font-size",14).attr("fill","#555").text("배당락(0.00%)");
});

levels.forEach(l=>{
 svg.append("rect").attr("x",plotL).attr("width",plotR-plotL).attr("y",y(l.v)-1.2).attr("height",2.4).attr("fill",l.c);
 svg.append("text").attr("x",18).attr("y",y(l.v)-3).attr("font-size",13.5).attr("fill",l.tc).text(l.t);
});

svg.append("text").attr("x",1927).attr("y",19).attr("font-size",14).attr("fill","#b02030").text("최고 106,500 (07/21)");
svg.append("line").attr("x1",2044).attr("x2",2056).attr("y1",14).attr("y2",14).attr("stroke","#e01010").attr("stroke-width",1.2);
svg.append("path").attr("d","M2054,9L2059,14L2054,19Z").attr("fill","#e01010");
svg.append("text").attr("x",1077).attr("y",796).attr("font-size",14).attr("fill","#1a1a90").text("최저 17,500 (08/06)");
svg.append("line").attr("x1",1187).attr("x2",1196).attr("y1",791).attr("y2",791).attr("stroke","#101090").attr("stroke-width",1.2);
svg.append("path").attr("d","M1193,785L1200,791L1193,797Z").attr("fill","#1010e0");

svg.append("g").selectAll("text").data(ichimokuLegend).join("text")
 .attr("x",2314).attr("y",(d,i)=>792+i*12).attr("text-anchor","end").attr("font-size",14)
 .attr("fill",(d,i)=>ichimokuColors[i]).text(d=>d);

const vg=svg.append("g");
vg.selectAll("rect").data(volumes).join("rect")
 .attr("x",(d,i)=>x(i)-1.4).attr("width",2.8)
 .attr("y",d=>yv(Math.abs(d))).attr("height",d=>Math.max(1,yv(0)-yv(Math.abs(d))))
 .attr("fill",d=>d>=0?UP:DOWN);
const vl=d3.line().x(d=>x(d[0])).y(d=>yv(d[1]));
const absV=volumes.map(Math.abs);
drawLine(rolling(absV,5),"#d030c0",1.1,vl);
drawLine(rolling(absV,20),"#e8b030",1.6,vl);
drawLine(rolling(absV,60),"#1f8a45",1.6,vl);
drawLine(rolling(absV,120),"#808080",1.6,vl);

svg.append("rect").attr("x",20).attr("y",853).attr("width",5).attr("height",6).attr("fill","#aaa").attr("stroke","#666");
const volLegend=[{t:"거래량",x:31,c:"#2a9090"},{t:"단순 5",x:75,c:"#c030b0"},{t:"20",x:117,c:"#e8a820"},{t:"60",x:137,c:"#1f9050"},{t:"120",x:158,c:"#707070"}];
svg.append("g").selectAll("text").data(volLegend).join("text").attr("x",d=>d.x).attr("y",861).attr("font-size",14).attr("fill",d=>d.c).text(d=>d.t);
svg.append("text").attr("x",21).attr("y",875).attr("font-size",14).attr("fill","#333").text("400,948주(57.28%)");

const ic=svg.append("g");
ic.append("rect").attr("x",23.5).attr("y",4.5).attr("width",12).attr("height",11).attr("fill","#c8c8c8").attr("stroke","#000");
[27.5,31.5].forEach(a=>ic.append("line").attr("x1",a).attr("x2",a).attr("y1",5).attr("y2",15).attr("stroke","#555"));
[8,11.5].forEach(a=>ic.append("line").attr("x1",24).attr("x2",35).attr("y1",a).attr("y2",a).attr("stroke","#555"));

function styleAxis(g){g.select(".domain").remove();g.selectAll("line").attr("stroke","#666");g.selectAll("text").attr("font-size",14).attr("fill","#333");}
svg.append("g").attr("transform",`translate(${plotR},0)`).call(d3.axisRight(y).tickValues(priceTicks).tickSize(7).tickPadding(2).tickFormat(d=>d3.format(",")(d*100))).call(styleAxis);
svg.append("g").attr("transform",`translate(${plotR},0)`).call(d3.axisRight(y).tickValues(d3.range(120,1080,20)).tickSize(4).tickFormat("")).call(styleAxis);
svg.append("g").attr("transform",`translate(${plotR},0)`).call(d3.axisRight(yv).tickValues(volumeTicks).tickSize(7).tickPadding(2).tickFormat(d=>d3.format(",")(d)+"K")).call(styleAxis);
svg.append("g").attr("transform",`translate(${plotR},0)`).call(d3.axisRight(yv).tickValues(d3.range(1250,16000,2500)).tickSize(4).tickFormat("")).call(styleAxis);
svg.append("rect").attr("x",plotR-0.8).attr("y",0).attr("width",1.6).attr("height",axisY).attr("fill","#888");
svg.append("rect").attr("x",plotL).attr("y",axisY-1).attr("width",W-plotL).attr("height",1.6).attr("fill","#888");
svg.append("g").selectAll("text").data([{t:"2018/04",d:0}].concat(monthDays.map((d,i)=>({t:monthLabels[i],d})))).join("text")
 .attr("x",d=>x(d.d)+1).attr("y",1085).attr("font-size",14).attr("fill","#333").text(d=>d.t);

svg.append("text").attr("x",2320).attr("y",7).attr("font-size",14).attr("fill","#2050c0").text("HC:-30,42");
function tag(text,sub,yTop){
 svg.append("rect").attr("x",2324).attr("y",yTop).attr("width",50).attr("height",12.5).attr("fill","#1c5cc8");
 svg.append("text").attr("x",2328).attr("y",yTop+11).attr("font-size",14).attr("fill","#fff").text(text);
 svg.append("text").attr("x",2328).attr("y",yTop+24).attr("font-size",14).attr("fill","#2a60c8").text(sub);
}
tag("74,100","-1.20%",288);
tag("400,948","57.28%",1046);

// the reference uses a narrow bitmap face: condense all text horizontally
svg.selectAll("text").each(function(){
 const len=this.getComputedTextLength();
 if(len>0){d3.select(this).attr("textLength",(len*0.86).toFixed(1)).attr("lengthAdjust","spacingAndGlyphs");}
});
</script></body></html>
